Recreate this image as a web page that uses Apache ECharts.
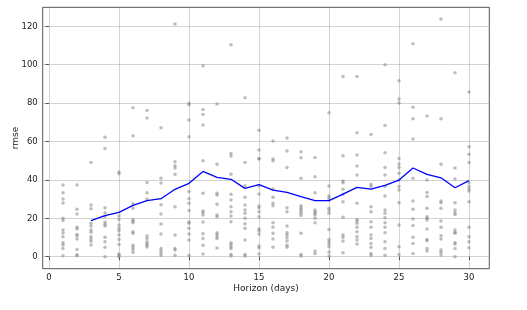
<!DOCTYPE html>
<html>
<head>
<meta charset="utf-8">
<script src="https://cdn.jsdelivr.net/npm/echarts@6/dist/echarts.min.js"></script>
<style>html,body{margin:0;padding:0;background:#fff}#c{width:527px;height:310px}</style>
</head>
<body>
<div id="c"></div>
<script>
const horizons = [1,2,3,4,5,6,7,8,9,10,11,12,13,14,15,16,17,18,19,20,21,22,23,24,25,26,27,28,29,30];
const rmsePoints = [
  [37.3,33.3,30.0,28.0,20.0,18.9,13.9,12.3,10.4,7.3,6.1,4.3,0.5],
  [37.3,24.7,22.2,15.3,14.4,11.6,10.9,9.2,3.8,1.0,0.5],
  [49.1,26.9,25.0,17.4,16.0,13.9,12.8,10.4,9.2,8.0,6.1],
  [62.2,56.3,25.5,22.7,21.0,17.9,16.8,16.0,10.1,7.8,4.9,0],
  [44.1,43.2,21.2,19.4,16.5,14.8,13.5,11.3,9.0,6.3,1.4,0.7,0],
  [77.6,63.0,27.6,25.2,19.4,18.4,17.7,13.0,12.2,5.9,4.9,3.8,2.3],
  [76.2,72.2,38.7,33.3,30.0,10.8,9.5,7.8,6.8,5.9,5.0],
  [67.2,40.8,38.4,27.1,22.2,17.0,11.8,4.3,3.1,1.9,0.7],
  [121.2,49.5,47.4,46.2,42.9,26.0,11.3,4.3,3.5,0.7],
  [79.9,79.2,71.2,62.5,33.9,30.2,27.8,24.0,18.1,17.4,14.8,11.8,8.7,0.7],
  [99.5,76.7,74.1,68.6,50.0,33.0,23.8,22.9,21.7,18.1,12.0,9.5,5.9,1.4],
  [79.5,48.1,33.0,32.1,27.3,21.7,20.8,12.5,11.6,10.4,9.5,4.5],
  [110.4,53.8,52.4,42.9,32.5,29.5,26.0,23.4,21.2,18.2,7.3,6.4,5.2,4.3,1.2,0.3],
  [82.8,49.1,37.0,30.9,26.9,24.3,22.6,20.0,17.2,14.8,8.7,1.2,0.3],
  [65.8,55.6,51.2,50.9,36.8,32.6,26.4,25.5,23.4,20.8,14.4,13.5,11.8,5.6,4.7,1.4],
  [60.2,50.9,50.0,35.2,30.9,27.8,26.6,17.7,15.3,12.2,9.2,4.9],
  [61.8,55.0,46.4,25.5,23.4,16.0,12.5,11.3,9.9,8.2,5.9,4.9],
  [54.7,51.6,40.8,26.6,25.5,24.7,23.6,22.6,21.5,12.2,1.2,0.3],
  [51.7,41.7,33.3,24.3,23.4,22.6,21.7,20.0,17.7,3.0,1.7],
  [75.0,36.8,31.6,30.7,29.5,25.2,24.0,22.6,14.2,9.0,7.8,6.6,5.2,2.4,0.3],
  [93.8,52.6,39.4,38.5,35.1,32.5,28.6,20.5,11.3,10.1,8.2,2.1],
  [93.8,64.6,53.0,47.2,42.5,27.8,19.4,18.6,17.4,15.3,13.0,10.4,8.7,6.6],
  [63.7,37.7,36.5,26.0,23.4,18.2,15.3,11.3,9.5,6.9,4.9,1.7,0.7],
  [100.0,68.4,54.2,46.4,42.5,36.5,31.6,24.3,22.6,20.3,17.7,15.3,12.5,7.8,4.3,0.7],
  [91.7,82.1,80.0,51.2,48.3,46.4,43.4,39.9,36.5,34.7,28.1,16.5,5.2,1.2],
  [110.9,77.8,71.9,61.3,40.8,29.0,24.7,19.6,16.3,10.1,6.9,1.7],
  [73.3,39.9,33.5,31.3,25.2,20.8,20.0,19.1,14.4,9.0,8.3,4.3,3.0],
  [123.8,71.9,48.1,29.0,28.1,25.3,18.6,15.3,10.9,9.2,3.5,2.3,0.9],
  [95.8,46.2,40.5,28.1,24.3,22.9,22.0,13.9,12.8,12.2,7.3,6.6,4.3,0],
  [85.8,57.3,53.3,49.1,38.5,36.5,35.2,34.2,28.6,15.3,10.4,7.8,4.7]
];
const lineHorizons = [3,4,5,6,7,8,9,10,11,12,13,14,15,16,17,18,19,20,21,22,23,24,25,26,27,28,29,30];
const meanRmse = [18.8,21.4,23.1,26.7,29.2,30.2,35.1,38.2,44.4,41.3,40.3,35.6,37.5,34.7,33.5,31.3,29.2,29.2,32.6,36.1,35.2,37.2,39.9,46.2,42.9,41.1,35.9,39.6];
const xTicks = [0,5,10,15,20,25,30];
const yTicks = [0,20,40,60,80,100,120];

const scatterData = [];
horizons.forEach((h, i) => rmsePoints[i].forEach(v => scatterData.push([h, v])));
const lineData = lineHorizons.map((h, i) => [h, meanRmse[i]]);

const font = 'DejaVu Sans';
const gridLine = {show: true, lineStyle: {color: 'rgba(128,128,128,0.35)', width: 1}};
const chart = echarts.init(document.getElementById('c'), null, {renderer: 'canvas'});
chart.setOption({
  animation: false,
  grid: {left: 42.7, right: 37.7, top: 7.3, bottom: 41.3, outerBoundsMode: 'none', containLabel: false,
         show: true, borderColor: '#555', borderWidth: 1, backgroundColor: 'transparent'},
  xAxis: {
    type: 'value', min: -0.45, max: 31.45,
    name: 'Horizon (days)', nameLocation: 'middle', nameGap: 15, nameMoveOverlap: false,
    nameTextStyle: {fontFamily: font, fontSize: 9, color: '#222'},
    axisLine: {show: false},
    axisTick: {show: true, customValues: xTicks, length: 3.5, lineStyle: {color: '#555'}},
    axisLabel: {customValues: xTicks, fontFamily: font, fontSize: 8.5, color: '#222', margin: 5},
    splitLine: gridLine
  },
  yAxis: {
    type: 'value', min: -6.25, max: 129.9,
    name: 'rmse', nameLocation: 'middle', nameGap: 23, nameMoveOverlap: false,
    nameTextStyle: {fontFamily: font, fontSize: 9, color: '#222'},
    axisLine: {show: false},
    axisTick: {show: true, customValues: yTicks, length: 3.5, lineStyle: {color: '#555'}},
    axisLabel: {customValues: yTicks, fontFamily: font, fontSize: 8.5, color: '#222', margin: 5},
    splitLine: gridLine
  },
  series: [
    {type: 'scatter', data: scatterData, symbolSize: 3.5, itemStyle: {color: 'rgba(128,128,128,0.65)'}, z: 2},
    {type: 'line', data: lineData, showSymbol: false, lineStyle: {color: '#0000ff', width: 1.3}, z: 3}
  ]
});
</script>
</body>
</html>
